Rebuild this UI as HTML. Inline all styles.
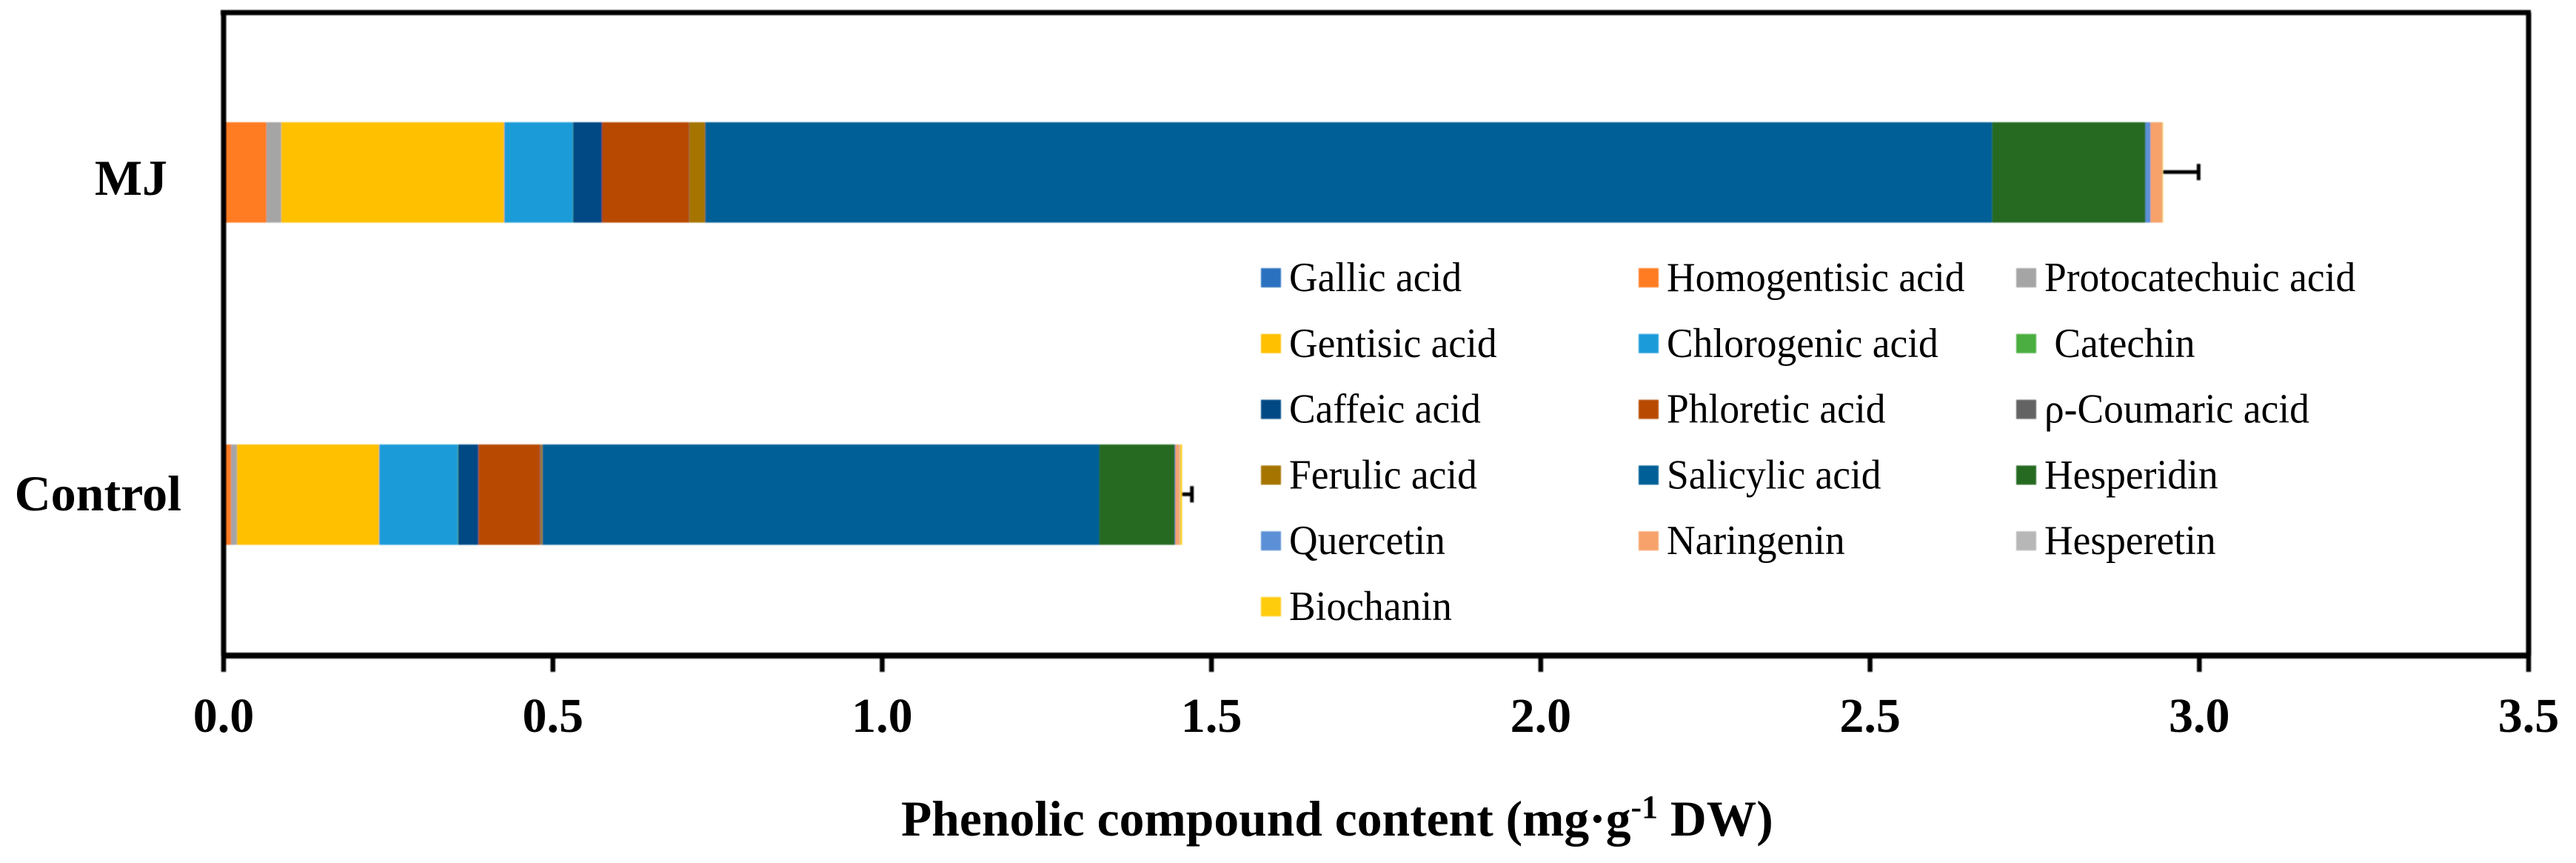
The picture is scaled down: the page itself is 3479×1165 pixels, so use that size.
<!DOCTYPE html>
<html lang="en">
<head>
<meta charset="utf-8">
<title>Phenolic compound content</title>
<style>
html,body{margin:0;padding:0;background:#fff;}
svg{display:block;}
text{font-family:"Liberation Serif",serif;fill:#000;}
.bold{font-weight:bold;}
</style>
</head>
<body>
<svg id="chart" xmlns="http://www.w3.org/2000/svg" width="3479" height="1165" viewBox="0 0 3479 1165">
  <defs>
    <filter id="soft" x="-2%" y="-2%" width="104%" height="104%"><feGaussianBlur stdDeviation="0.9"/></filter>
  </defs>
  <rect x="0" y="0" width="3479" height="1165" fill="#ffffff"/>
  <g id="bars" filter="url(#soft)"></g>
  <g id="axes" filter="url(#soft)"></g>
  <g id="labels"></g>
  <text class="bold" transform="translate(1217 1128) scale(0.994 1)" x="0" y="0" font-size="68">Phenolic compound content (mg·g<tspan font-size="44" dy="-24">-1</tspan><tspan dy="24"> DW)</tspan></text>
  <g id="legend"></g>
</svg>
<script>
const categories = ['MJ', 'Control'];
const seriesNames = ['Gallic acid', 'Homogentisic acid', 'Protocatechuic acid', 'Gentisic acid', 'Chlorogenic acid', 'Catechin', 'Caffeic acid', 'Phloretic acid', 'p-Coumaric acid', 'Ferulic acid', 'Salicylic acid', 'Hesperidin', 'Quercetin', 'Naringenin', 'Hesperetin', 'Biochanin'];
const legendLabels = ['Gallic acid', 'Homogentisic acid', 'Protocatechuic acid', 'Gentisic acid', 'Chlorogenic acid', '\u00a0Catechin', 'Caffeic acid', 'Phloretic acid', 'ρ-Coumaric acid', 'Ferulic acid', 'Salicylic acid', 'Hesperidin', 'Quercetin', 'Naringenin', 'Hesperetin', 'Biochanin'];
const seriesColors = ['#2a72c0', '#ff7c24', '#a5a5a5', '#ffc000', '#1f9bd9', '#4caf3f', '#004a85', '#b84a00', '#636363', '#a67500', '#005f96', '#266a21', '#5b90d6', '#f6a26a', '#b7b7b7', '#ffcc11'];
const mjValues = [0.001, 0.064, 0.0225, 0.3386, 0.1041, 0.0005, 0.0438, 0.1321, 0.0005, 0.0242, 1.954, 0.2328, 0.0078, 0.0175, 0.0005, 0.001];
const controlValues = [0.001, 0.0102, 0.009, 0.216, 0.1192, 0.0007, 0.0309, 0.0934, 0.0015, 0.0023, 0.8453, 0.1148, 0.001, 0.006, 0.001, 0.003];
const errorValues = [0.054, 0.015];
const xTicks = [0, 0.5, 1, 1.5, 2, 2.5, 3, 3.5];
const tickLabels = ['0.0', '0.5', '1.0', '1.5', '2.0', '2.5', '3.0', '3.5'];

const NS = 'http://www.w3.org/2000/svg';
const plot = {x0: 302, x1: 3415, top: 17, bottom: 885, xMax: 3.5};
function xScale(v) { return plot.x0 + (v / plot.xMax) * (plot.x1 - plot.x0); }
function bandTop(i) { return 165 + i * 435; }
const bandHeight = 135.5;
function make(tag, attrs) {
  const el = document.createElementNS(NS, tag);
  for (const k in attrs) el.setAttribute(k, attrs[k]);
  return el;
}

const barsG = document.getElementById('bars');
const axesG = document.getElementById('axes');
const labelsG = document.getElementById('labels');
const legendG = document.getElementById('legend');
const allValues = [mjValues, controlValues];

categories.forEach(function (cat, c) {
  let cum = 0;
  const top = bandTop(c);
  seriesNames.forEach(function (name, s) {
    const v = allValues[c][s];
    const rect = make('rect', {x: xScale(cum), y: top, width: xScale(cum + v) - xScale(cum), height: bandHeight, fill: seriesColors[s]});
    
    
    barsG.appendChild(rect);
    cum += v;
  });
  const midY = top + bandHeight / 2 - 0.5;
  const err = errorValues[c];
  const errLine = make('line', {x1: xScale(cum), x2: xScale(cum + err), y1: midY, y2: midY, stroke: '#000', 'stroke-width': 5});
  
  
  barsG.appendChild(errLine);
  const errCap = make('line', {x1: xScale(cum + err), x2: xScale(cum + err), y1: midY - 11, y2: midY + 11, stroke: '#000', 'stroke-width': 5});
  
  
  barsG.appendChild(errCap);
});

const frameTop = make('line', {x1: plot.x0 - 4, x2: plot.x1 + 3, y1: plot.top, y2: plot.top, stroke: '#000', 'stroke-width': 7});


axesG.appendChild(frameTop);
const frameRight = make('line', {x1: plot.x1, x2: plot.x1, y1: plot.top, y2: plot.bottom, stroke: '#000', 'stroke-width': 7});


axesG.appendChild(frameRight);
const yAxis = make('line', {x1: plot.x0, x2: plot.x0, y1: plot.top, y2: plot.bottom, stroke: '#000', 'stroke-width': 7});


axesG.appendChild(yAxis);
const xAxis = make('line', {x1: plot.x0 - 3, x2: plot.x1 + 3, y1: plot.bottom, y2: plot.bottom, stroke: '#000', 'stroke-width': 8});


axesG.appendChild(xAxis);

xTicks.forEach(function (t, i) {
  const tick = make('line', {x1: xScale(t), x2: xScale(t), y1: plot.bottom, y2: plot.bottom + 22, stroke: '#000', 'stroke-width': 6.5});
  
  
  axesG.appendChild(tick);
  const label = make('text', {x: xScale(t), y: 988, 'font-size': 66, 'text-anchor': 'middle', class: 'bold'});
  label.textContent = tickLabels[i];
  
  
  labelsG.appendChild(label);
});

const catBaselines = [263, 689];
categories.forEach(function (cat, c) {
  const label = make('text', {x: 245 - (c === 0 ? 19 : 0), y: catBaselines[c], 'font-size': 68, 'text-anchor': 'end', class: 'bold'});
  label.textContent = cat;
  
  
  labelsG.appendChild(label);
});

function legendColX(col) { return 1703 + col * 510; }
function legendRowY(row) { return 375 + row * 88.8; }
legendLabels.forEach(function (name, i) {
  const col = i % 3;
  const row = Math.floor(i / 3);
  const item = make('g', {});
  
  
  const swatch = make('rect', {x: legendColX(col), y: legendRowY(row) - 13, width: 27, height: 26, fill: seriesColors[i], filter: 'url(#soft)'});
  
  
  item.appendChild(swatch);
  const text = make('text', {transform: 'translate(' + (legendColX(col) + 38) + ' ' + (legendRowY(row) + 18) + ') scale(0.955 1)', x: 0, y: 0, 'font-size': 56});
  text.textContent = name;
  
  
  item.appendChild(text);
  legendG.appendChild(item);
});
</script>
</body>
</html>
